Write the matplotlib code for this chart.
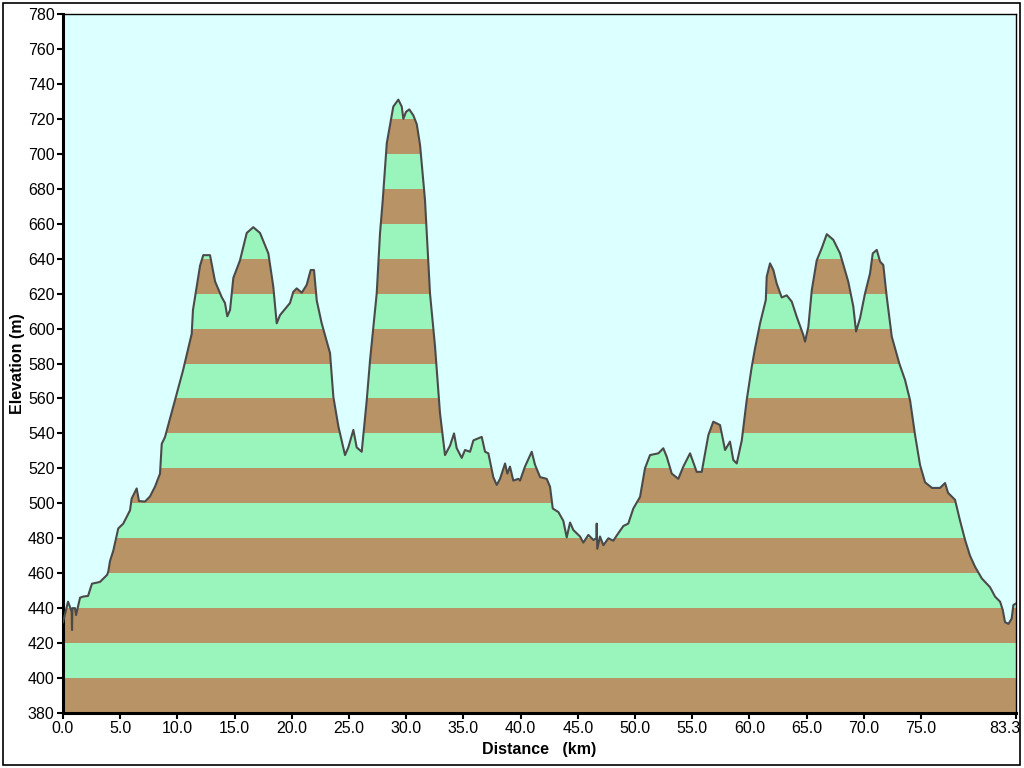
import numpy as np
import matplotlib
matplotlib.use('Agg')
import matplotlib.pyplot as plt
import matplotlib.transforms as mtransforms
from matplotlib.patches import Rectangle

plt.rcParams['font.family'] = ['Liberation Sans', 'DejaVu Sans']

# profile: distance (km), elevation (m)
dist = [0.0, 0.44, 0.76, 0.79, 0.82, 1.05, 1.14, 1.49, 1.75, 2.19,
        2.53, 3.23, 3.85, 3.96, 4.11, 4.40, 4.83, 5.27, 5.86, 6.00,
        6.44, 6.64, 7.17, 7.60, 8.04, 8.48, 8.63, 8.77, 8.92, 9.79,
        10.49, 11.25, 11.36, 11.98, 12.26, 12.85, 13.29, 13.87, 14.16, 14.36,
        14.60, 14.89, 15.47, 16.06, 16.63, 17.22, 17.95, 18.38, 18.68, 18.97,
        19.84, 20.13, 20.43, 20.87, 21.30, 21.65, 21.94, 22.18, 22.61, 23.34,
        23.63, 24.07, 24.65, 24.94, 25.38, 25.67, 26.11, 26.55, 26.84, 27.42,
        27.71, 27.95, 28.30, 28.87, 29.31, 29.61, 29.75, 29.98, 30.27, 30.62,
        30.92, 31.21, 31.64, 32.08, 32.52, 32.95, 33.39, 33.83, 34.18, 34.41,
        34.85, 35.14, 35.58, 35.87, 36.60, 36.89, 37.18, 37.61, 37.91, 38.20,
        38.64, 38.84, 39.07, 39.36, 39.80, 39.95, 40.38, 40.97, 41.26, 41.70,
        42.28, 42.57, 42.81, 43.30, 43.73, 44.03, 44.32, 44.61, 45.19, 45.48,
        45.92, 46.36, 46.62, 46.65, 46.70, 46.94, 47.23, 47.67, 48.10, 48.54,
        48.98, 49.41, 49.85, 50.44, 50.87, 51.31, 52.04, 52.47, 52.77, 53.21,
        53.78, 54.22, 54.81, 55.39, 55.83, 56.41, 56.84, 57.43, 57.87, 58.30,
        58.59, 58.89, 59.33, 59.76, 60.20, 60.49, 60.93, 61.43, 61.51, 61.80,
        62.09, 62.38, 62.82, 63.26, 63.70, 64.13, 64.71, 64.86, 65.15, 65.45,
        65.88, 66.32, 66.76, 67.33, 67.92, 68.64, 69.08, 69.32, 69.67, 70.10,
        70.54, 70.78, 71.13, 71.42, 71.70, 72.00, 72.44, 73.10, 73.60, 74.04,
        74.48, 74.91, 75.35, 75.96, 76.66, 77.10, 77.36, 77.97, 78.41, 78.85,
        79.28, 79.72, 80.31, 81.03, 81.47, 81.91, 82.14, 82.34, 82.64, 82.92,
        83.07, 83.30]
elev = [432, 443.7, 438, 427.5, 440, 440, 436, 446, 446.6, 447,
        454, 455, 459, 461, 467, 473, 485.6, 488.4, 496, 502.7,
        508.5, 501.3, 501, 503.9, 509.5, 517, 534, 536, 538, 559,
        576, 597, 610.6, 636, 642, 642, 627, 618, 614.6, 607,
        610.6, 629, 639, 654.7, 658, 654.7, 643, 624, 603, 607.7,
        614.6, 621, 623, 620.5, 625, 633.5, 633.5, 616, 603, 586,
        561, 544, 527.6, 532, 542, 532, 529.5, 559, 582, 620,
        654.5, 673.6, 706, 727, 731, 727, 720, 724, 725.4, 722,
        717, 705, 673.6, 620, 589.6, 551.7, 527.6, 533, 540, 531.6,
        526, 530.5, 529.5, 536, 538, 529.5, 528.6, 515, 510.5, 514,
        522.8, 517, 521, 513, 514, 513, 521, 529.5, 522, 515,
        514, 509.5, 497, 495, 490, 480.5, 489, 484.7, 481, 477.5,
        481.9, 479, 480, 488.4, 474, 481, 476, 480, 478.6, 482.9,
        487, 488.4, 497, 503.7, 520, 527.6, 528.6, 531.5, 526.7, 517,
        514, 521, 528.6, 518, 518, 539, 546.7, 544.8, 530.5, 535.3,
        524.8, 522.8, 536, 559, 578, 588.7, 603, 616.3, 629.7, 637.3,
        633.5, 625.8, 617.8, 619, 615.4, 606.8, 596.3, 592.5, 601, 622,
        639, 646, 654, 650.8, 643, 626.8, 612.6, 598.3, 606, 620,
        631.5, 643, 645, 638.3, 636.4, 618.2, 595.4, 580, 570.6, 559,
        539, 522, 512, 508.8, 508.8, 511.6, 506, 502, 490, 479,
        470, 463.7, 457, 452, 446.6, 443.7, 439, 432, 431, 434,
        441.8, 442.7]

y_ticks = list(range(380, 781, 20))
x_ticks = [0, 5, 10, 15, 20, 25, 30, 35, 40, 45, 50, 55, 60, 65, 70, 75, 83.3]
x_labels = ['0.0', '5.0', '10.0', '15.0', '20.0', '25.0', '30.0', '35.0', '40.0',
            '45.0', '50.0', '55.0', '60.0', '65.0', '70.0', '75.0', '83.3']

brown = '#b89366'
green = '#9af5bd'
sky = '#dcffff'
line_col = '#4a4a4a'

dist = np.array(dist)
elev = np.array(elev)

fig = plt.figure(figsize=(10.24, 7.68), dpi=100)
ax = fig.add_axes([63 / 1024, 1 - 713 / 768, 953 / 1024, 699 / 768])
ax.set_facecolor(sky)

ax.set_xlim(0, 83.3)
ax.set_ylim(380, 780)

# area under the profile, used only as a clip shape for the bands
area = ax.fill_between(dist, 380, elev, facecolor='none', linewidth=0)
clip = area.get_paths()[0]

# alternating 20 m bands under the profile
for i, lo in enumerate(range(380, 780, 20)):
    band = ax.axhspan(lo, lo + 20, color=brown if i % 2 == 0 else green, linewidth=0, zorder=2)
    band.set_clip_path(clip, transform=ax.transData)

ax.plot(dist, elev, color=line_col, linewidth=1.5, zorder=3)

ax.set_xticks(x_ticks)
ax.set_xticklabels(x_labels)
ax.set_yticks(y_ticks)
ax.tick_params(direction='out', length=4, width=1.5, labelsize=11.5, pad=2)

# last label sits left of its tick so it stays inside the frame
last = ax.get_xticklabels()[-1]
last.set_horizontalalignment('right')
last.set_transform(last.get_transform() + mtransforms.ScaledTranslation(4 / 100, 0, fig.dpi_scale_trans))

for s in ['left', 'bottom']:
    ax.spines[s].set_linewidth(2.2)
for s in ['top', 'right']:
    ax.spines[s].set_linewidth(1.0)

ax.set_ylabel('Elevation (m)', fontsize=11.5, fontweight='bold', labelpad=2)
ax.set_xlabel('Distance   (km)', fontsize=11.5, fontweight='bold', labelpad=4)

# outer frame of the picture
fig.patches.append(Rectangle((3 / 1024, 3 / 768), 1017 / 1024, 762 / 768, transform=fig.transFigure,
                             fill=False, edgecolor='black', linewidth=1.2))

fig.savefig('out.png', dpi=100, facecolor='white')
